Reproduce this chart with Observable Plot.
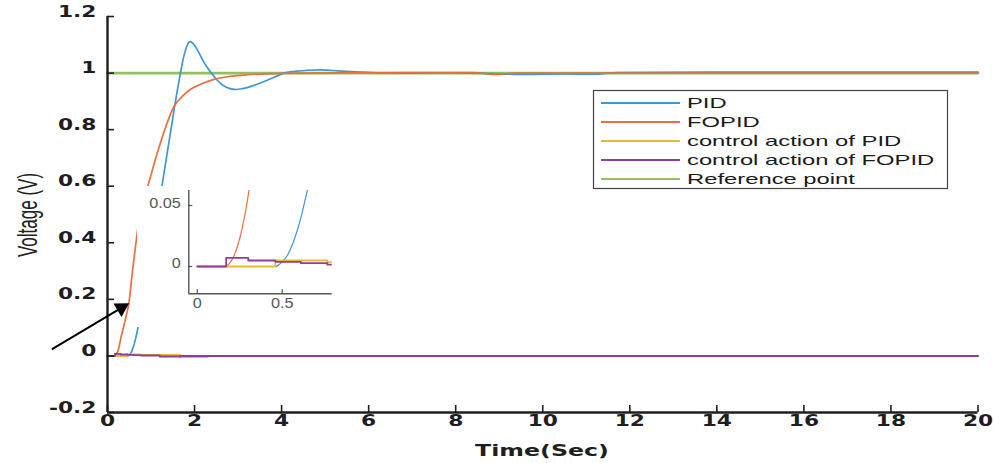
<!DOCTYPE html>
<html><head><meta charset="utf-8">
<script src="https://cdn.jsdelivr.net/npm/d3@7"></script>
<script src="https://cdn.jsdelivr.net/npm/@observablehq/plot@0.6"></script>
<style>
body{margin:0;background:#fff;}
#wrap{position:relative;width:994px;height:463px;overflow:hidden;background:#fff;}
#wrap > svg{position:absolute;}
</style></head><body><div id="wrap"></div>
<script>
// ---------- data ----------
const xTicks = [0, 2, 4, 6, 8, 10, 12, 14, 16, 18, 20];
const yTicks = [-0.2, 0, 0.2, 0.4, 0.6, 0.8, 1, 1.2];
const insetXTicks = [0, 0.5];
const insetYTicks = [0, 0.05];

const seriesNames = ["PID", "FOPID", "control action of PID", "control action of FOPID", "Reference point"];

const pidT = [0, 0.46, 0.5, 0.53, 0.56, 0.588, 0.61, 0.627, 0.647, 0.7, 0.8, 0.9, 1.0, 1.1, 1.24, 1.4, 1.52, 1.6, 1.67, 1.74, 1.8, 1.85, 1.89, 1.94, 2.0, 2.1, 2.2, 2.3, 2.4, 2.5, 2.65, 2.8, 2.95, 3.1, 3.3, 3.6, 3.9, 4.05, 4.3, 4.6, 4.9, 5.3, 5.7, 6.2, 7, 8, 9, 9.6, 10.5, 11.2, 11.7, 14, 20];
const pidV = [0, 0, 0.004, 0.009, 0.018, 0.0295, 0.04, 0.05, 0.062, 0.10, 0.18, 0.265, 0.355, 0.45, 0.59, 0.745, 0.86, 0.935, 0.995, 1.05, 1.085, 1.104, 1.111, 1.108, 1.098, 1.072, 1.042, 1.018, 0.998, 0.978, 0.957, 0.946, 0.942, 0.945, 0.953, 0.97, 0.99, 1.0, 1.006, 1.01, 1.011, 1.008, 1.004, 1.001, 1.0, 1.001, 0.997, 0.995, 0.997, 0.996, 1.002, 1.003, 1.003];

const fopidT = [0, 0.16, 0.186, 0.21, 0.235, 0.255, 0.274, 0.29, 0.304, 0.35, 0.4, 0.45, 0.49, 0.55, 0.6, 0.65, 0.69, 0.75, 0.82, 0.896, 1.0, 1.1, 1.21, 1.35, 1.52, 1.7, 1.9, 2.1, 2.43, 2.8, 3.2, 3.6, 4.0, 5, 7, 8.4, 8.9, 9.4, 12, 20];
const fopidV = [0, 0, 0.002, 0.007, 0.016, 0.026, 0.038, 0.05, 0.062, 0.09, 0.122, 0.155, 0.184, 0.267, 0.335, 0.395, 0.443, 0.49, 0.54, 0.585, 0.64, 0.695, 0.75, 0.815, 0.88, 0.915, 0.942, 0.958, 0.977, 0.988, 0.994, 0.997, 0.999, 1.0, 1.002, 1.002, 0.995, 1.0, 1.0, 1.0];

const caPidT = [0, 0.46, 0.765, 1.67, 2.3, 20];
const caPidV = [0, 0.005, 0.0035, -0.004, 0, 0];

const caFopidT = [0, 0.17, 0.30, 0.46, 0.61, 0.765, 1.2, 1.67, 20];
const caFopidV = [0, 0.0071, 0.0049, 0.0038, 0.0027, 0.0015, -0.002, 0, 0];

const refT = [0, 20];
const refV = [1, 1];

const arrowX = [-1.263, 0.496];
const arrowY = [0.025, 0.186];

// ---------- styles ----------
const colors = ["#3f97d4", "#e8703f", "#f0b630", "#8b3f9a", "#93bf62"];
const rows = (T, V) => T.map((t, i) => ({t, v: V[i]}));
const series = [
  {data: rows(pidT, pidV), curve: "monotone-x", w: 1.7, wi: 1.2},
  {data: rows(fopidT, fopidV), curve: "monotone-x", w: 1.7, wi: 1.2},
  {data: rows(caPidT, caPidV), curve: "step-after", w: 1.9, wi: 1.8},
  {data: rows(caFopidT, caFopidV), curve: "step-after", w: 1.9, wi: 1.8},
  {data: rows(refT, refV), curve: "linear", w: 2.8, wi: 2}
];
const drawOrder = [4, 0, 1, 2, 3];

function stretch(svgNode, sx) {
  svgNode.querySelectorAll("text").forEach(el => {
    const x = el.getAttribute("x"), y = el.getAttribute("y");
    let t = el.getAttribute("transform") || "";
    if (x != null || y != null) {
      t += ` translate(${+x || 0},${+y || 0})`;
      el.removeAttribute("x"); el.removeAttribute("y");
    }
    el.setAttribute("transform", `${t} scale(${sx},1)`);
  });
}

const wrap = document.getElementById("wrap");
const axisColor = "#1e1e1e";
const fmt = d => String(+d.toFixed(2));

// ---------- main chart ----------
const W = 994, H = 463, mL = 107, mR = 16.5, mT = 16, mB = 51;
const xDomain = [0, 20], yDomain = [-0.2, 1.2];
const frameW = W - mL - mR, frameH = H - mT - mB, tickLen = 7;
// tick length expressed in data units (derived from layout)
const tickDX = tickLen / frameW * (xDomain[1] - xDomain[0]);
const tickDY = tickLen / frameH * (yDomain[1] - yDomain[0]);
const main = Plot.plot({
  width: W, height: H,
  marginLeft: mL, marginRight: mR, marginTop: mT, marginBottom: mB,
  x: {domain: xDomain},
  y: {domain: yDomain},
  style: {fontFamily: "DejaVu Sans", fontSize: "15px", fontWeight: "bold", color: axisColor, background: "transparent", overflow: "visible"},
  marks: [
    ...drawOrder.map(i => Plot.line(series[i].data, {x: "t", y: "v", curve: series[i].curve, stroke: colors[i], strokeWidth: series[i].w})),
    Plot.ruleY(yTicks, {y: d => d, x1: xDomain[0], x2: xDomain[0] + tickDX, stroke: axisColor, strokeWidth: 1.6}),
    Plot.ruleX(xTicks, {x: d => d, y1: yDomain[0], y2: yDomain[0] + tickDY, stroke: axisColor, strokeWidth: 1.6}),
    Plot.ruleX([xDomain[0]], {stroke: axisColor, strokeWidth: 2.4}),
    Plot.ruleY([yDomain[0]], {stroke: axisColor, strokeWidth: 2.4}),
    Plot.axisY(yTicks, {tickSize: 0, tickPadding: 11, tickFormat: fmt, label: null, fill: axisColor}),
    Plot.axisX(xTicks, {tickSize: 0, tickPadding: 13, tickFormat: fmt, label: null, fill: axisColor}),
    Plot.arrow([0], {x1: () => arrowX[0], y1: () => arrowY[0], x2: () => arrowX[1], y2: () => arrowY[1], stroke: "#000", strokeWidth: 2, headLength: 0, insetEnd: 7}),
    Plot.dot([0], {x: () => arrowX[1], y: () => arrowY[1], symbol: "triangle", r: 5.8, fill: "#000", stroke: "none", rotate: 59.3, dx: -7.7, dy: 4.6})
  ]
});
stretch(main, 1.45);
main.style.left = "0px"; main.style.top = "0px";
wrap.appendChild(main);

// ---------- inset ----------
const iL = 137, iT = 186, iW = 198, iH = 141;
const imL = 51.3, imR = 3.3, imT = 4, imB = 33.7;
const insetXDomain = [-0.05, 0.794];
const insetYDomain = [-0.0224, 0.0623];
const iTick = 4;
const iTickDX = iTick / (iW - imL - imR) * (insetXDomain[1] - insetXDomain[0]);
const iTickDY = iTick / (iH - imT - imB) * (insetYDomain[1] - insetYDomain[0]);
const insetColor = "#555";
const inset = Plot.plot({
  width: iW, height: iH,
  marginLeft: imL, marginRight: imR, marginTop: imT, marginBottom: imB,
  x: {domain: insetXDomain},
  y: {domain: insetYDomain},
  style: {fontFamily: "Liberation Sans", fontSize: "15px", color: insetColor, background: "#fff"},
  marks: [
    ...drawOrder.filter(i => i !== 4).map(i => Plot.line(series[i].data, {x: "t", y: "v", curve: series[i].curve, stroke: colors[i], strokeWidth: series[i].wi, clip: true})),
    Plot.ruleY(insetYTicks, {y: d => d, x1: insetXDomain[0], x2: insetXDomain[0] + iTickDX, stroke: insetColor, strokeWidth: 1.2}),
    Plot.ruleX(insetXTicks, {x: d => d, y1: insetYDomain[0], y2: insetYDomain[0] + iTickDY, stroke: insetColor, strokeWidth: 1.2}),
    Plot.ruleX([insetXDomain[0]], {stroke: insetColor, strokeWidth: 1.4}),
    Plot.ruleY([insetYDomain[0]], {stroke: insetColor, strokeWidth: 1.4}),
    Plot.axisY(insetYTicks, {tickSize: 0, tickPadding: 8, tickFormat: d => String(d), label: null, fill: insetColor, dy: 2}),
    Plot.axisX(insetXTicks, {tickSize: 0, tickPadding: 14, tickFormat: d => String(d), label: null, fill: insetColor})
  ]
});
stretch(inset, 1.08);
inset.style.left = iL + "px"; inset.style.top = iT + "px";
wrap.appendChild(inset);

// ---------- overlay: titles + legend ----------
const ov = d3.create("svg").attr("width", W).attr("height", H)
  .style("left", "0px").style("top", "0px").style("pointer-events", "none");

ov.append("text").text("Time(Sec)")
  .attr("transform", "translate(542,456) scale(1.58,1)")
  .attr("text-anchor", "middle")
  .style("font-family", "DejaVu Sans").style("font-weight", "bold").style("font-size", "15px").style("fill", axisColor);

ov.append("text").text("Voltage (V)")
  .attr("transform", "translate(27,215) scale(1.65,1) rotate(-90)")
  .attr("text-anchor", "middle").attr("dominant-baseline", "central")
  .style("font-family", "Liberation Sans").style("font-size", "17px").style("fill", "#222");

const lg = ov.append("g");
lg.append("rect").attr("x", 593.5).attr("y", 90.5).attr("width", 354).attr("height", 98)
  .attr("fill", "#fff").attr("stroke", "#444").attr("stroke-width", 1.2);
seriesNames.forEach((name, i) => {
  const cy = 103 + i * 19;
  lg.append("line").attr("x1", 601).attr("x2", 680).attr("y1", cy).attr("y2", cy)
    .attr("stroke", colors[i]).attr("stroke-width", i === 4 ? 2.2 : 1.8);
  lg.append("text").text(name)
    .attr("transform", `translate(687,${cy + 5}) scale(1.7,1)`)
    .style("font-family", "Liberation Sans").style("font-size", "14px").style("fill", "#1a1a1a");
});
wrap.appendChild(ov.node());
</script></body></html>
